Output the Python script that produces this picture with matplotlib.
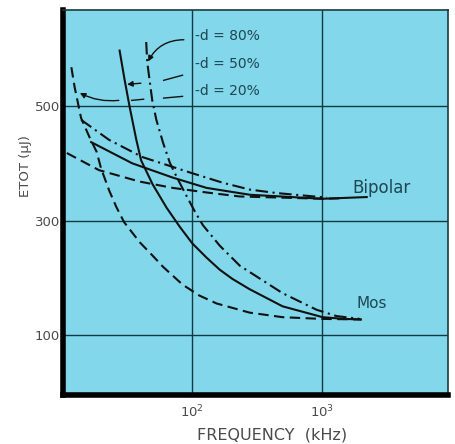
import numpy as np
import matplotlib
matplotlib.use("Agg")
import matplotlib.pyplot as plt

# ===================== data =====================
# Mos, d = 20% (dashed)
mos20_f = [11.6, 12.3, 13.0, 13.8, 16.0, 18.2, 19.7, 22.7, 25.8, 29.7, 39.2, 49.6, 59.4, 84, 113, 154, 277, 499, 1000, 2044]
mos20_e = [568, 533, 507, 479, 446, 420, 391, 353, 324, 297, 262, 238, 219, 188, 169, 155, 139, 131, 128, 127]
# Mos, d = 50% (solid)
mos50_f = [27.4, 30.0, 32.8, 36.9, 40.2, 49.4, 63.4, 80, 100, 129, 163, 204, 277, 499, 1019, 1500, 2000]
mos50_e = [597, 545, 498, 441, 405, 363, 322, 289, 260, 235, 214, 198, 180, 150, 131, 128, 127]
# Mos, d = 80% (dash-dot)
mos80_f = [44.0, 44.8, 49.0, 52.7, 59.4, 67, 77.3, 90.2, 104.5, 120.6, 163, 233, 499, 914, 1300, 1972]
mos80_e = [612, 577, 510, 476, 436, 401, 372, 343, 316, 292, 256, 221, 173, 144, 133, 128]
# Bipolar, d = 20% (dashed)
bip20_f = [10.7, 19.0, 39.2, 70.6, 129, 233, 1019, 1500]
bip20_e = [418, 388, 368, 357, 349, 342, 338, 339]
# Bipolar, d = 50% (solid)
bip50_f = [16.5, 34.3, 70.6, 129, 279, 1019, 2234]
bip50_e = [437, 400, 375, 357, 345, 338, 341]
# Bipolar, d = 80% (dash-dot)
bip80_f = [13.8, 22.7, 41.0, 95.6, 172, 279, 448, 1100]
bip80_e = [476, 441, 411, 384, 366, 354, 348, 340]

y_ticks = [100, 300, 500]
x_ticks = [1e2, 1e3]
x_tick_labels = ["10$^2$", "10$^3$"]
duty_labels = ["-d = 80%", "-d = 50%", "-d = 20%"]

BG = "#82d7ea"
INK = "#111111"
TXT = "#1d4753"
DASHED = (0, (5, 2.6))
DASHDOT = (0, (6, 2.2, 1, 2.2))

plt.rcParams["font.family"] = ["DejaVu Sans"]

fig = plt.figure(figsize=(4.55, 4.44), dpi=100)
ax = fig.add_axes([0.1385, 0.1104, 0.8461, 0.8671])
ax.set_facecolor(BG)
ax.set_xscale("log")
ax.set_xlim(10, 9500)
ax.set_ylim(-5, 668)

# grid only at the labelled values
for yv in y_ticks:
    ax.axhline(yv, color="#0f3a44", lw=1.0, zorder=1)
for xv in x_ticks:
    ax.axvline(xv, color="#0f3a44", lw=1.0, zorder=1)

lw = 1.5
ax.plot(mos20_f, mos20_e, color=INK, lw=lw, ls=DASHED, zorder=3)
ax.plot(mos50_f, mos50_e, color=INK, lw=lw, ls="-", zorder=3)
ax.plot(mos80_f, mos80_e, color=INK, lw=lw, ls=DASHDOT, zorder=3)
ax.plot(bip20_f, bip20_e, color=INK, lw=lw, ls=DASHED, zorder=3)
ax.plot(bip50_f, bip50_e, color=INK, lw=lw, ls="-", zorder=3)
ax.plot(bip80_f, bip80_e, color=INK, lw=lw, ls=DASHDOT, zorder=3)

# curve labels
ax.text(2900, 356, "Bipolar", color=TXT, fontsize=12, ha="center", va="center")
ax.text(2460, 155, "Mos", color=TXT, fontsize=11, ha="center", va="center")

# duty-cycle labels with leader arrows
for lab, yv in zip(duty_labels, [622, 574, 526]):
    ax.text(104, yv, lab, color=TXT, fontsize=10, ha="left", va="center")

arrow = dict(arrowstyle="-|>", color=INK, lw=1.0, mutation_scale=8, shrinkA=0, shrinkB=0)
# 80 %
ax.annotate("", xy=(45.5, 578), xytext=(86, 616),
            arrowprops=dict(arrow, connectionstyle="arc3,rad=0.3"))
# 50 % (broken where it crosses the curves)
ax.plot([60, 84], [545, 554], color=INK, lw=1.0, zorder=4)
ax.annotate("", xy=(31.3, 538), xytext=(40, 540), arrowprops=arrow)
# 20 %
ax.plot([60, 84], [514, 517], color=INK, lw=1.0, zorder=4)
ax.plot([34, 42], [510, 512], color=INK, lw=1.0, zorder=4)
ax.annotate("", xy=(13.5, 523), xytext=(27, 510),
            arrowprops=dict(arrow, connectionstyle="arc3,rad=-0.15"))

# axes styling
ax.set_yticks(y_ticks)
ax.set_yticklabels([str(v) for v in y_ticks])
ax.set_xticks(x_ticks)
ax.set_xticklabels(x_tick_labels)
ax.xaxis.set_minor_locator(matplotlib.ticker.NullLocator())
ax.tick_params(axis="both", length=0, labelsize=9.5, labelcolor="#4a4a4a")
ax.tick_params(axis="y", pad=2)
ax.tick_params(axis="x", pad=6)

ax.set_xlabel("FREQUENCY  (kHz)", fontsize=11.5, color="#4a4a4a")
ax.xaxis.set_label_coords(0.543, -0.085)
ax.set_ylabel("ETOT (μJ)", fontsize=9.5, color="#4a4a4a")
ax.yaxis.set_label_coords(-0.08, 0.595)

for side in ["left", "bottom"]:
    ax.spines[side].set_linewidth(4)
    ax.spines[side].set_color("#000000")
for side in ["top", "right"]:
    ax.spines[side].set_linewidth(1.2)
    ax.spines[side].set_color("#1a3a40")

fig.savefig("out.png", dpi=100)
